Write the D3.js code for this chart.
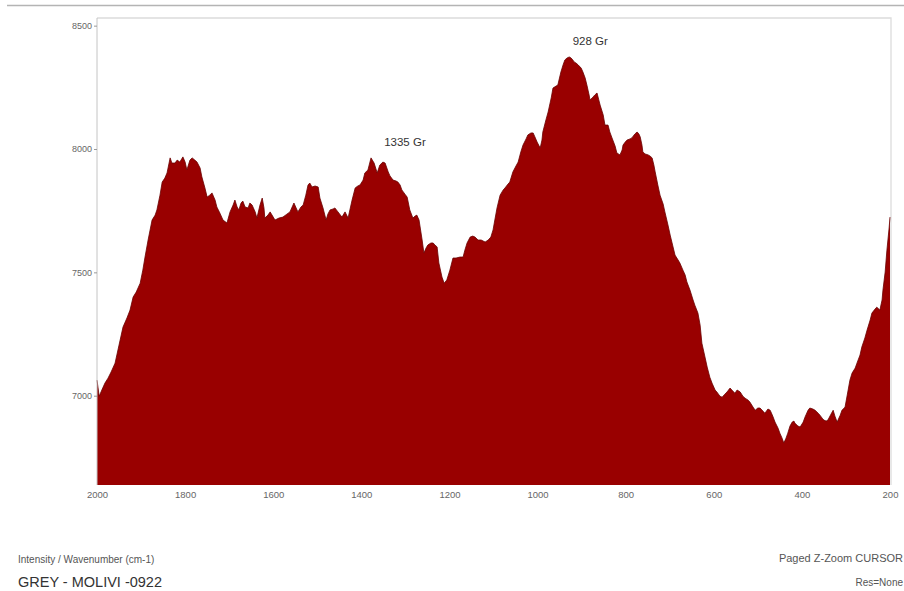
<!DOCTYPE html>
<html>
<head>
<meta charset="utf-8">
<script src="https://cdn.jsdelivr.net/npm/d3@7"></script>
<style>
  html, body { margin: 0; padding: 0; background: #fff; }
  svg { display: block; font-family: "Liberation Sans", Arial, sans-serif; }
</style>
</head>
<body>
<svg id="chart" width="904" height="591"></svg>
<script>
// Raman spectrum: wavenumber (cm-1) and intensity
const wavenumbers = [
  2000,1995,1989,1982,1975,1968,1959,1950,1941,1932,1925,1918,1911,1902,1896,1891,1884,1875,1868,1864,
  1857,1852,1846,1841,1834,1830,1823,1818,1812,1805,1800,1796,1789,1784,1778,1773,1766,1762,1755,1750,
  1744,1739,1732,1728,1721,1714,1705,1698,1691,1687,1682,1678,1673,1669,1664,1657,1653,1648,1641,1637,
  1630,1625,1621,1619,1612,1607,1600,1596,1587,1578,1569,1562,1557,1553,1548,1544,1537,1532,1526,1521,
  1517,1512,1505,1498,1494,1487,1480,1476,1471,1464,1460,1453,1444,1437,1430,1426,1421,1414,1408,1403,
  1396,1392,1385,1378,1371,1364,1358,1351,1346,1339,1335,1328,1321,1317,1312,1308,1301,1296,1290,1283,
  1278,1274,1269,1262,1258,1253,1249,1242,1237,1233,1228,1224,1217,1212,1206,1199,1192,1185,1176,1169,
  1165,1160,1153,1147,1142,1135,1128,1119,1112,1106,1101,1097,1092,1085,1078,1074,1067,1063,1056,1049,
  1044,1038,1033,1026,1022,1015,1010,1006,1001,994,990,988,981,976,969,965,958,954,947,942,
  938,933,928,924,920,917,913,908,901,897,892,888,883,881,876,874,870,865,861,858,
  851,847,840,836,831,824,820,813,808,806,801,797,790,786,779,774,770,767,763,761,
  756,749,745,740,736,733,727,722,715,711,704,699,693,688,681,677,670,665,661,654,
  647,643,636,631,627,620,615,609,604,597,593,586,581,575,570,563,559,552,547,540,
  534,529,522,518,511,506,500,495,488,484,477,472,466,461,454,450,445,441,436,432,
  427,422,418,416,409,404,397,393,386,382,375,370,363,359,354,350,345,341,334,329,
  325,320,313,309,304,302,295,291,286,279,275,268,264,257,252,245,241,234,230,223,
  218,216,211,207,202,200
];
const intensities = [
  7063,6998,7023,7051,7071,7096,7132,7205,7278,7315,7347,7400,7420,7456,7509,7562,7631,7712,7732,7753,
  7813,7866,7882,7903,7964,7943,7943,7955,7947,7968,7947,7915,7955,7964,7955,7947,7923,7887,7842,7805,
  7813,7822,7793,7765,7740,7712,7700,7745,7773,7793,7765,7753,7781,7789,7765,7761,7781,7773,7745,7720,
  7773,7801,7761,7720,7732,7745,7724,7712,7720,7724,7736,7745,7765,7781,7761,7745,7765,7773,7813,7854,
  7862,7846,7850,7846,7801,7761,7712,7736,7753,7757,7761,7745,7724,7745,7720,7753,7793,7842,7850,7854,
  7874,7903,7915,7964,7943,7903,7935,7947,7943,7907,7891,7874,7870,7866,7854,7834,7817,7805,7753,7720,
  7728,7732,7712,7631,7578,7599,7611,7619,7619,7611,7603,7538,7481,7456,7469,7509,7558,7558,7562,7562,
  7590,7619,7643,7647,7643,7631,7631,7623,7631,7643,7672,7712,7761,7813,7834,7842,7858,7866,7907,7931,
  7947,7988,8016,8041,8057,8065,8065,8049,8028,8004,8036,8069,8118,8150,8207,8247,8255,8259,8312,8341,
  8361,8369,8373,8369,8361,8353,8349,8341,8328,8312,8288,8259,8219,8199,8207,8211,8219,8227,8199,8178,
  8138,8097,8097,8069,8045,8012,7984,7976,7996,8016,8028,8036,8041,8045,8061,8069,8061,8049,8016,7988,
  7980,7976,7972,7964,7935,7907,7854,7813,7777,7745,7692,7651,7607,7570,7550,7538,7509,7489,7461,7428,
  7388,7367,7335,7286,7213,7157,7116,7075,7051,7023,7015,6998,6994,7006,7015,7031,7023,7010,7023,7015,
  6998,6990,6982,6974,6954,6941,6950,6950,6937,6929,6946,6941,6917,6893,6868,6848,6828,6808,6828,6848,
  6877,6893,6897,6889,6877,6873,6893,6913,6941,6950,6946,6941,6929,6921,6909,6901,6897,6901,6925,6941,
  6917,6893,6921,6941,6950,6954,7023,7063,7092,7112,7132,7165,7197,7234,7266,7307,7335,7351,7359,7347,
  7388,7428,7501,7590,7680,7724
];
const spectrum = wavenumbers.map((w, i) => ({ w, v: intensities[i] }));

const xTicks = [2000, 1800, 1600, 1400, 1200, 1000, 800, 600, 400, 200];
const yTicks = [7000, 7500, 8000, 8500];

// Labelled bands: text, band position, and the local maximum the text sits above
const peakLabels = ["1335 Gr", "928 Gr"];
const peakPositions = [1335, 928];
const peakTops = [7964, 8373];

const svg = d3.select("#chart");

const plot = { left: 97, right: 891, top: 18, bottom: 485 };

const x = d3.scaleLinear().domain([2000, 200]).range([plot.left, 890]);
const y = d3.scaleLinear().domain([6638, 8531]).range([plot.bottom, plot.top]);

// page rule along the top
svg.append("line")
  .attr("x1", 7).attr("x2", 904).attr("y1", 5.5).attr("y2", 5.5)
  .attr("stroke", "#b4b4b4").attr("stroke-width", 1.6);

// plot frame (top and right edges)
svg.append("path")
  .attr("d", `M${plot.left},${plot.top}H${plot.right}V${plot.bottom}`)
  .attr("fill", "none").attr("stroke", "#dcdcdc").attr("stroke-width", 1.3);

// filled spectrum
const area = d3.area()
  .x(d => x(d.w))
  .y0(y(6638))
  .y1(d => y(d.v));

svg.append("path")
  .datum(spectrum)
  .attr("d", area)
  .attr("fill", "#990000");

svg.append("path")
  .datum(spectrum)
  .attr("d", d3.line().x(d => x(d.w)).y(d => y(d.v)))
  .attr("fill", "none")
  .attr("stroke", "#6a0000")
  .attr("stroke-width", 0.8);

// y axis
const yAxis = d3.axisLeft(y).tickValues(yTicks).tickSize(3).tickPadding(2).tickFormat(d3.format("d"));
const gy = svg.append("g").attr("transform", `translate(${plot.left},0)`).call(yAxis);
gy.select(".domain").attr("stroke", "#c4c4c4").attr("d", `M0,${plot.top}V${plot.bottom}`);
gy.selectAll(".tick line").attr("stroke", "#999");
gy.selectAll(".tick text").attr("fill", "#666").attr("font-size", "9px");

// x axis
const xAxis = d3.axisBottom(x).tickValues(xTicks).tickSize(0).tickPadding(6).tickFormat(d3.format("d"));
const gx = svg.append("g").attr("transform", `translate(0,${plot.bottom})`).call(xAxis);
gx.select(".domain").remove();
gx.selectAll(".tick text").attr("fill", "#666").attr("font-size", "9.5px");

// band annotations
const peakOffsets = [15, 21];
svg.selectAll(".peak")
  .data(peakLabels)
  .join("text")
  .attr("class", "peak")
  .attr("x", (d, i) => x(peakPositions[i]) + peakOffsets[i])
  .attr("y", (d, i) => y(peakTops[i]) - 12)
  .attr("text-anchor", "middle")
  .attr("font-size", "11.5px")
  .attr("fill", "#333")
  .text(d => d);

// footer text
svg.append("text").attr("x", 18).attr("y", 563)
  .attr("font-size", "10px").attr("fill", "#555")
  .text("Intensity / Wavenumber (cm-1)");
svg.append("text").attr("x", 18).attr("y", 587)
  .attr("font-size", "14.5px").attr("fill", "#333")
  .text("GREY - MOLIVI -0922");
svg.append("text").attr("x", 903).attr("y", 562).attr("text-anchor", "end")
  .attr("font-size", "11px").attr("fill", "#555")
  .text("Paged  Z-Zoom CURSOR");
svg.append("text").attr("x", 903).attr("y", 586).attr("text-anchor", "end")
  .attr("font-size", "10px").attr("fill", "#555")
  .text("Res=None");
</script>
</body>
</html>
